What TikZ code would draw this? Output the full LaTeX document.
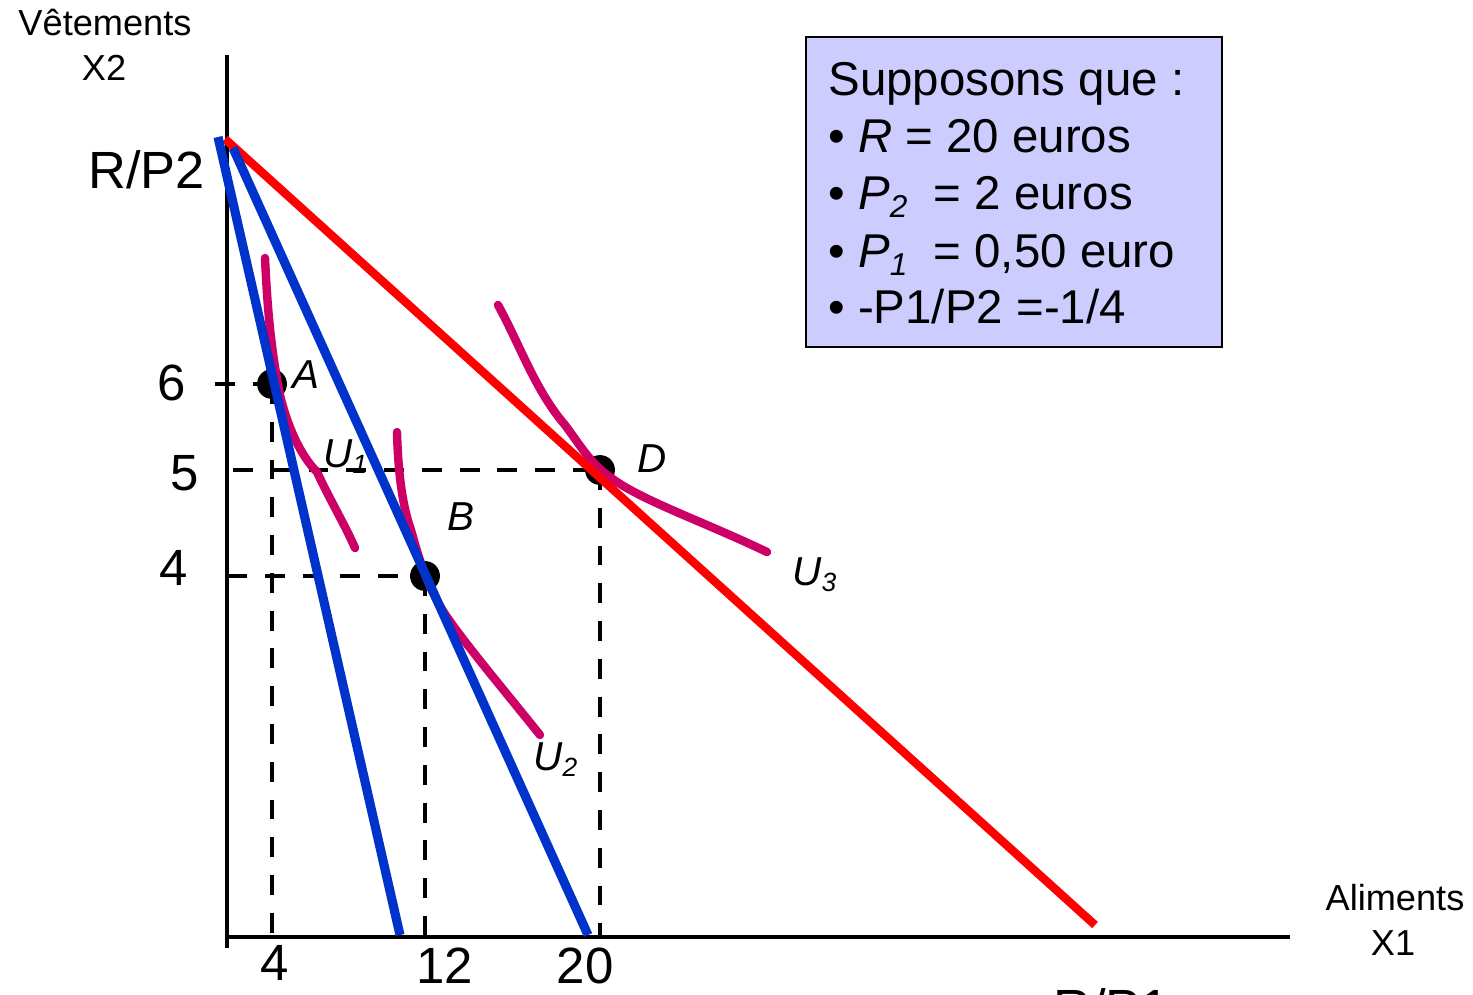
\documentclass[tikz,border=0pt]{standalone}
\usepackage{fontspec}
\setmainfont{Liberation Sans}
\begin{document}
\begin{tikzpicture}[x=0.02cm,y=-0.02cm,
  axis/.style={line width=2.8pt,black},
  guide/.style={line width=2.8pt,black,dash pattern=on 11.3pt off 10.2pt},
  budgetb/.style={line width=5.2pt,color={rgb,255:red,0;green,51;blue,204}},
  budgetr/.style={line width=4.8pt,color={rgb,255:red,255;green,0;blue,0}},
  indiff/.style={line width=4.8pt,color={rgb,255:red,204;green,0;blue,102},line cap=round},
  dot/.style={circle,fill=black,minimum size=17pt,inner sep=0pt},
  lab/.style={inner sep=0pt,anchor=base west},
  ptlab/.style={inner sep=0pt,anchor=base west,font=\fontsize{23}{27}\selectfont\itshape},
  ticklab/.style={inner sep=0pt,anchor=base,font=\fontsize{29}{34}\selectfont},
  axlab/.style={inner sep=0pt,anchor=base,font=\fontsize{20.6}{24}\selectfont},
  boxtxt/.style={inner sep=0pt,anchor=base west,font=\fontsize{27}{32}\selectfont}
]
\useasboundingbox (0,0) rectangle (1473,994);

% axes
\coordinate (ytop) at (227,55);
\coordinate (ybot) at (227,948);
\coordinate (xl) at (227,937);
\coordinate (xr) at (1290,937);
\draw[axis] (ytop) -- (ybot);
\draw[axis] (xl) -- (xr);

% points
\node[dot] (A) at (272,384) {};
\node[dot] (B) at (425,576) {};
\node[dot] (D) at (600,470) {};

% guides
\coordinate (t6) at (215,384);
\coordinate (t5) at (233,470);
\coordinate (t4) at (227,576);
\coordinate (a0) at (272,937);
\coordinate (b0) at (425,937);
\coordinate (d0) at (600,937);
\draw[guide] (t6) -- (A.center);
\draw[guide] (t5) -- (D.center);
\draw[guide] (t4) -- (B.center);
\draw[guide] (A.center) -- (a0);
\draw[guide] (B.center) -- (b0);
\draw[guide] (D.center) -- (d0);

% indifference curves
\draw[indiff] (265,258) .. controls (267,300) and (270,345) .. (280,395)
  .. controls (287,425) and (300,455) .. (317,472)
  .. controls (330,500) and (345,525) .. (355,548);
\draw[indiff] (397,432) .. controls (398,470) and (402,505) .. (411,530)
  .. controls (418,555) and (425,580) .. (440,606)
  .. controls (455,632) and (500,685) .. (540,735);
\draw[indiff] (498,305) .. controls (520,345) and (535,390) .. (565,425)
  .. controls (580,445) and (590,463) .. (610,477)
  .. controls (640,500) and (700,520) .. (767,552);

% budget lines
\coordinate (b1s) at (218,137);
\coordinate (b1e) at (400,935);
\coordinate (b2s) at (233,148);
\coordinate (b2e) at (588,935);
\coordinate (rs) at (225,139);
\coordinate (re) at (1095,925);
\draw[budgetr] (rs) -- (re);
\draw[budgetb] (b1s) -- (b1e);
\draw[budgetb] (b2s) -- (b2e);

% labels
\node[ptlab] (lA) at (292,388) {A};
\node[ptlab] (lB) at (447,530) {B};
\node[ptlab] (lD) at (637,472) {D};
\node[ptlab] (lU1) at (323,467) {U\raisebox{-0.3ex}{\fontsize{15}{18}\selectfont 1}};
\node[ptlab] (lU2) at (533,770) {U\raisebox{-0.3ex}{\fontsize{15}{18}\selectfont 2}};
\node[ptlab] (lU3) at (792,585) {U\raisebox{-0.3ex}{\fontsize{15}{18}\selectfont 3}};

\node[ticklab] (n6) at (172,400) {6};
\node[ticklab] (n5) at (185,490) {5};
\node[ticklab] (n4) at (174,585) {4};
\node[ticklab] (m4) at (275,980) {4};
\node[ticklab] (m12) at (445,983) {12};
\node[ticklab] (m20) at (585,983) {20};
\node[lab,font=\fontsize{29.8}{34}\selectfont] (rp2) at (88,188) {R/P2};
\node[lab,font=\fontsize{29.8}{34}\selectfont] (rp1) at (1053,1026) {R/P1};

\node[axlab] (vet) at (105,35) {Vêtements};
\node[axlab] (x2) at (104,80) {X2};
\node[axlab] (ali) at (1395,910) {Aliments};
\node[axlab] (x1) at (1393,955) {X1};

% box
\draw[fill={rgb,255:red,204;green,204;blue,255},line width=1.3pt] (806,37) rectangle (1222,347);
\node[boxtxt] (s0) at (828,95) {Supposons que :};
\node[boxtxt] (s1) at (828,152) {\textbullet\ \textit{R} = 20 euros};
\node[boxtxt] (s2) at (828,209) {\textbullet\ \textit{P}\raisebox{-0.35ex}{\fontsize{18}{20}\selectfont\textit{2}}\ \ = 2 euros};
\node[boxtxt] (s3) at (828,267) {\textbullet\ \textit{P}\raisebox{-0.35ex}{\fontsize{18}{20}\selectfont\textit{1}}\ \ = 0,50 euro};
\node[boxtxt] (s4) at (828,323) {\textbullet\ -P1/P2 =-1/4};
\end{tikzpicture}
\end{document}
